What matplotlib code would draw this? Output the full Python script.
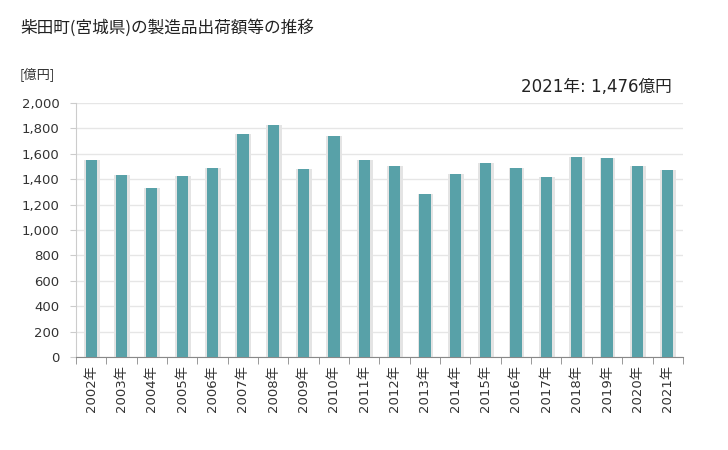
import matplotlib
matplotlib.use("Agg")
import matplotlib.pyplot as plt
import numpy as np

plt.rcParams["font.family"] = ["DejaVu Sans", "Noto Sans CJK JP"]

years = [f"{y}年" for y in range(2002, 2022)]
values = [1551, 1433, 1331, 1425, 1488, 1756, 1827, 1480, 1740, 1551,
          1504, 1283, 1441, 1528, 1488, 1417, 1575, 1567, 1504, 1476]
yticks = list(range(0, 2001, 200))

fig = plt.figure(figsize=(7.28, 4.5), dpi=100)
ax = fig.add_axes([0.1044, 0.2067, 0.8336, 0.5643])

x = np.arange(len(years))
# shadow behind bars
ax.bar(x + 0.015, values, width=0.52, color="#e4e4e4", zorder=2)
ax.bar(x, values, width=0.37, color="#58a1a8", zorder=3)

ax.set_xlim(-0.5, len(years) - 0.5)
ax.set_ylim(0, 2000)
ax.set_yticks(yticks)
ax.set_yticklabels([f"{v:,}" for v in yticks], fontsize=9.5, color="#333333")
ax.grid(axis="y", color="#e6e6e6", lw=1, zorder=0)

ax.set_xticks(x)
ax.set_xticklabels(years, rotation=90, fontsize=9.5, color="#333333")
ax.set_xticks(np.arange(-0.5, len(years)), minor=True)
ax.tick_params(axis="x", which="major", length=0, pad=6)
ax.tick_params(axis="x", which="minor", length=5, color="#888888")
ax.tick_params(axis="y", length=4, color="#cccccc", pad=8)

for s in ["top", "right"]:
    ax.spines[s].set_visible(False)
ax.spines["left"].set_color("#cccccc")
ax.spines["bottom"].set_color("#888888")

cjk = ["Noto Sans CJK JP", "DejaVu Sans"]
fig.text(20 / 728, 1 - 28 / 450, "柴田町(宮城県)の製造品出荷額等の推移",
         fontsize=12, va="center", ha="left", color="#222222", family=cjk)
fig.text(20 / 728, 1 - 75 / 450, "[億円]", fontsize=9.5, va="center",
         ha="left", color="#333333", family=cjk)
fig.text(672 / 728, 1 - 87 / 450, "2021年: 1,476億円", fontsize=12,
         va="center", ha="right", color="#222222")

fig.savefig("out.png", dpi=100)
